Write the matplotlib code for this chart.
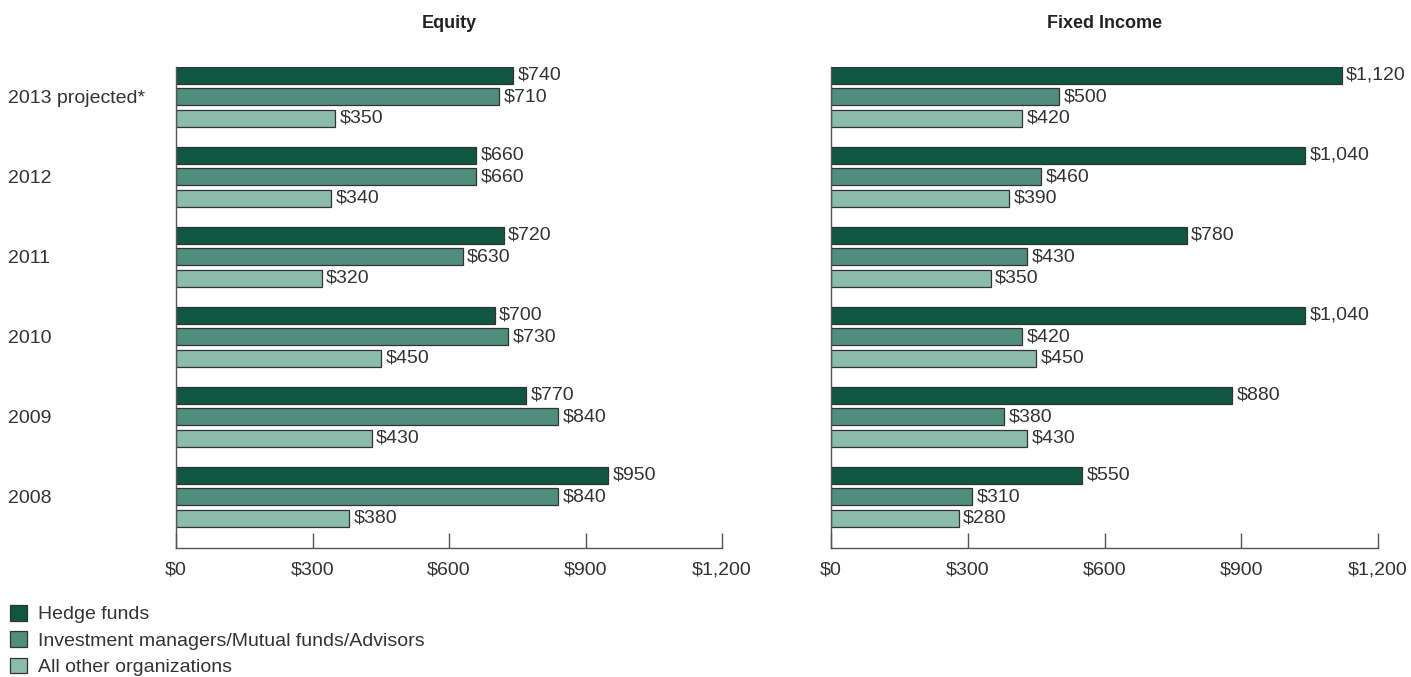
import matplotlib
matplotlib.use("Agg")
import matplotlib.pyplot as plt
import matplotlib.transforms as mtransforms
import numpy as np
from matplotlib.patches import Patch

plt.rcParams['font.family'] = ['Liberation Sans', 'DejaVu Sans']

years = ["2008", "2009", "2010", "2011", "2012", "2013 projected*"]
series = ["Hedge funds", "Investment managers/Mutual funds/Advisors", "All other organizations"]
equity_hedge = [950, 770, 700, 720, 660, 740]
equity_invest = [840, 840, 730, 630, 660, 710]
equity_other = [380, 430, 450, 320, 340, 350]
fixed_hedge = [550, 880, 1040, 780, 1040, 1120]
fixed_invest = [310, 380, 420, 430, 460, 500]
fixed_other = [280, 430, 450, 350, 390, 420]
xticks = [0, 300, 600, 900, 1200]

colors = ["#0f5741", "#4f8e7a", "#8bbcab"]
edge = "#333333"
txt = "#333333"
FS = 14

fig = plt.figure(figsize=(14.11, 6.77), dpi=100)
ax1 = fig.add_axes([176/1411, 129/677, 546/1411, (548-67)/677])
ax2 = fig.add_axes([831/1411, 129/677, 547/1411, (548-67)/677])

y = np.arange(len(years))
off = 0.269
h = 0.2125

def fmt(v):
    return "${:,}".format(v)

for ax, data, title in [(ax1, [equity_hedge, equity_invest, equity_other], "Equity"),
                        (ax2, [fixed_hedge, fixed_invest, fixed_other], "Fixed Income")]:
    for k, vals in enumerate(data):
        ypos = y + off * (1 - k)
        ax.barh(ypos, vals, height=h, color=colors[k], edgecolor=edge, linewidth=0.9)
        for yy, v in zip(ypos, vals):
            ax.text(v + 10, yy, fmt(v), va='center', ha='left', fontsize=FS, color=txt)
    ax.set_xlim(0, 1200)
    ax.set_ylim(-0.64, 5.375)
    ax.set_xticks(xticks)
    ax.set_xticklabels([fmt(t) for t in xticks], fontsize=FS, color=txt)
    ax.tick_params(axis='x', direction='in', length=11, width=1, color='#555555', pad=10)
    ax.set_yticks([])
    for s in ['top', 'right']:
        ax.spines[s].set_visible(False)
    ax.spines['left'].set_color('#555555')
    ax.spines['bottom'].set_color('#555555')
    ax.spines['left'].set_linewidth(1)
    ax.spines['bottom'].set_linewidth(1)
    ax.set_title(title, fontsize=13, fontweight='bold', color='#222222', pad=0,
                 y=(677-24-129)/(548-67), va='center')

trans = mtransforms.blended_transform_factory(fig.transFigure, ax1.transData)
for yy, lab in zip(y, years):
    fig.text(8/1411, yy - 0.02, lab, transform=trans, ha='left', va='center', fontsize=FS, color=txt)

handles = [Patch(facecolor=c, edgecolor=edge, linewidth=0.9) for c in colors]
fig.legend(handles, series, loc='upper left', bbox_to_anchor=(10/1411, 1 - 605/677),
           frameon=False, fontsize=FS, handlelength=0.85, handleheight=0.85,
           handletextpad=0.6, labelspacing=0.4, borderaxespad=0, borderpad=0.0,
           labelcolor=txt)

fig.savefig("out.png", dpi=100)
